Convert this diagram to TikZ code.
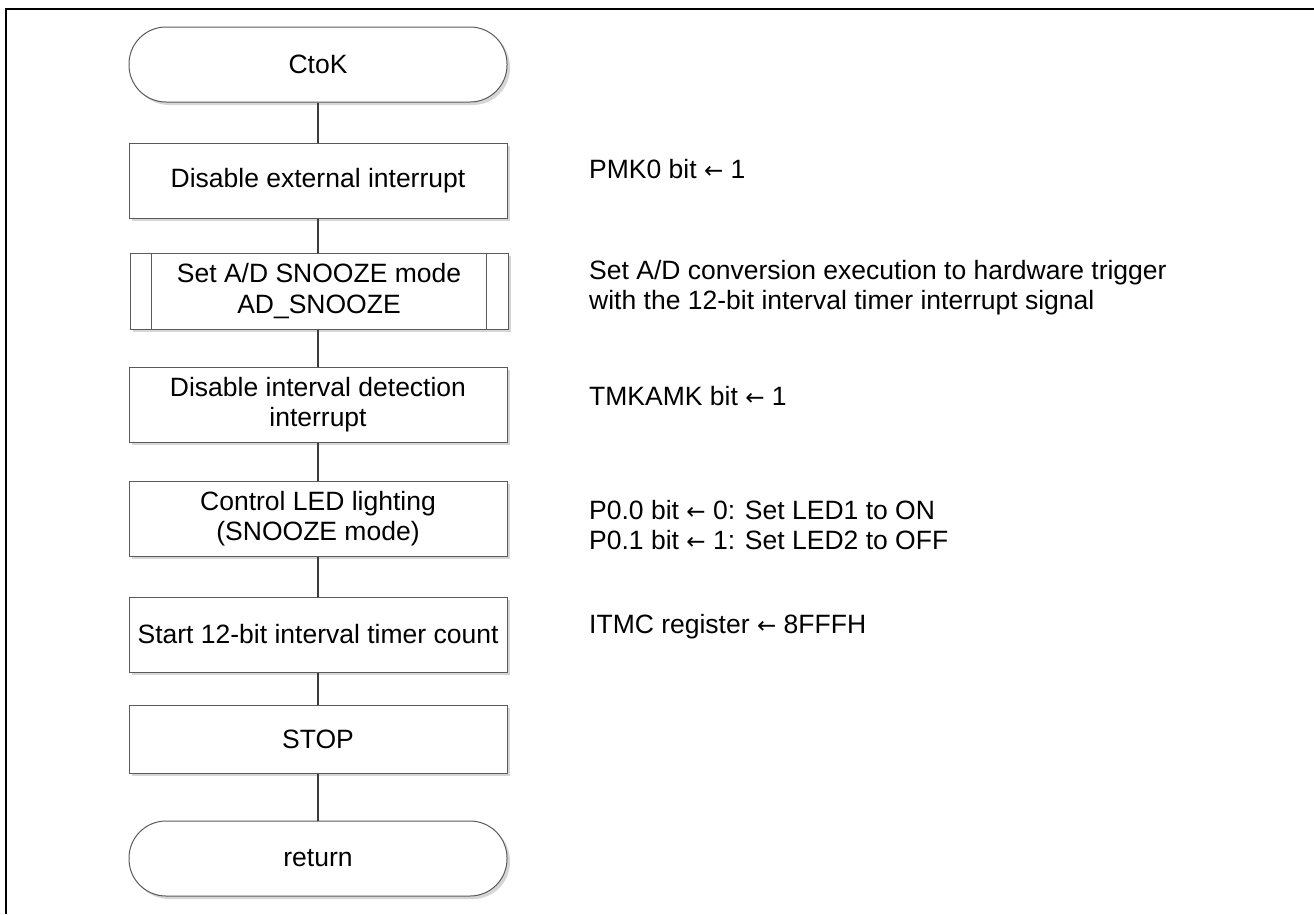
\documentclass[tikz,border=0pt]{standalone}
\usepackage{fontspec}
\setmainfont{Liberation Sans}
\newfontfamily\arrowfont{DejaVu Sans}
\usetikzlibrary{shadows}
\definecolor{boxline}{HTML}{5A5A5A}
\definecolor{shadowgray}{HTML}{D6D6D6}
\definecolor{connline}{HTML}{3C3C3C}
\newcommand{\larr}{{\arrowfont\fontsize{23}{23}\selectfont ←}}
\begin{document}
\begin{tikzpicture}[x=1pt,y=-1pt,
  txt/.style={font=\fontsize{26.5}{30.5}\selectfont},
  box/.style={txt, draw=boxline, line width=1pt, fill=white,
    minimum width=378pt, minimum height=75pt, inner sep=0pt, align=center,
    drop shadow={shadow xshift=3pt, shadow yshift=-3pt, fill=shadowgray, opacity=1}},
  term/.style={box, rounded corners=37pt},
  note/.style={txt, anchor=base west, inner sep=0pt},
  conn/.style={draw=connline, line width=1.6pt},
  frame/.style={draw=black, line width=2.2pt}]
\useasboundingbox (0,0) rectangle (1314,914);
\draw[frame] (6,914) -- (6,9) -- (1314,9);

\node[term] (ctok) at (318,64.5) {CtoK};
\node[box] (b1) at (318,180.5) {Disable external interrupt};
\node[box, minimum height=76pt] (sub) at (319,291) {Set A/D SNOOZE mode\\AD\_SNOOZE};
\draw[boxline, line width=1pt] ([xshift=22pt]sub.north west) -- ([xshift=22pt]sub.south west);
\draw[boxline, line width=1pt] ([xshift=-22pt]sub.north east) -- ([xshift=-22pt]sub.south east);
\node[box] (b3) at (318,404.5) {Disable interval detection\\interrupt};
\node[box] (b4) at (318,518.5) {Control LED lighting\\(SNOOZE mode)};
\node[box] (b5) at (318,634.5) {Start 12-bit interval timer count};
\node[box, minimum height=68pt] (stop) at (318,739) {STOP};
\node[term] (ret) at (318,858.5) {return};

\draw[conn] (ctok.south) -- (b1.north);
\draw[conn] (b1.south) -- (sub.north -| b1.south);
\draw[conn] (sub.south -| b3.north) -- (b3.north);
\draw[conn] (b3.south) -- (b4.north);
\draw[conn] (b4.south) -- (b5.north);
\draw[conn] (b5.south) -- (stop.north);
\draw[conn] (stop.south) -- (ret.north);

\node[note] (n1) at (589,178) {PMK0 bit \larr{} 1};
\node[note] (n2a) at (589,279) {Set A/D conversion execution to hardware trigger};
\node[note] (n2b) at (589,309.5) {with the 12-bit interval timer interrupt signal};
\node[note] (n3) at (589,405) {TMKAMK bit \larr{} 1};
\node[note] (n4a) at (589,519) {P0.0 bit \larr{} 0: Set LED1 to ON};
\node[note] (n4b) at (589,549.5) {P0.1 bit \larr{} 1: Set LED2 to OFF};
\node[note] (n5) at (589,633) {ITMC register \larr{} 8FFFH};
\end{tikzpicture}
\end{document}
